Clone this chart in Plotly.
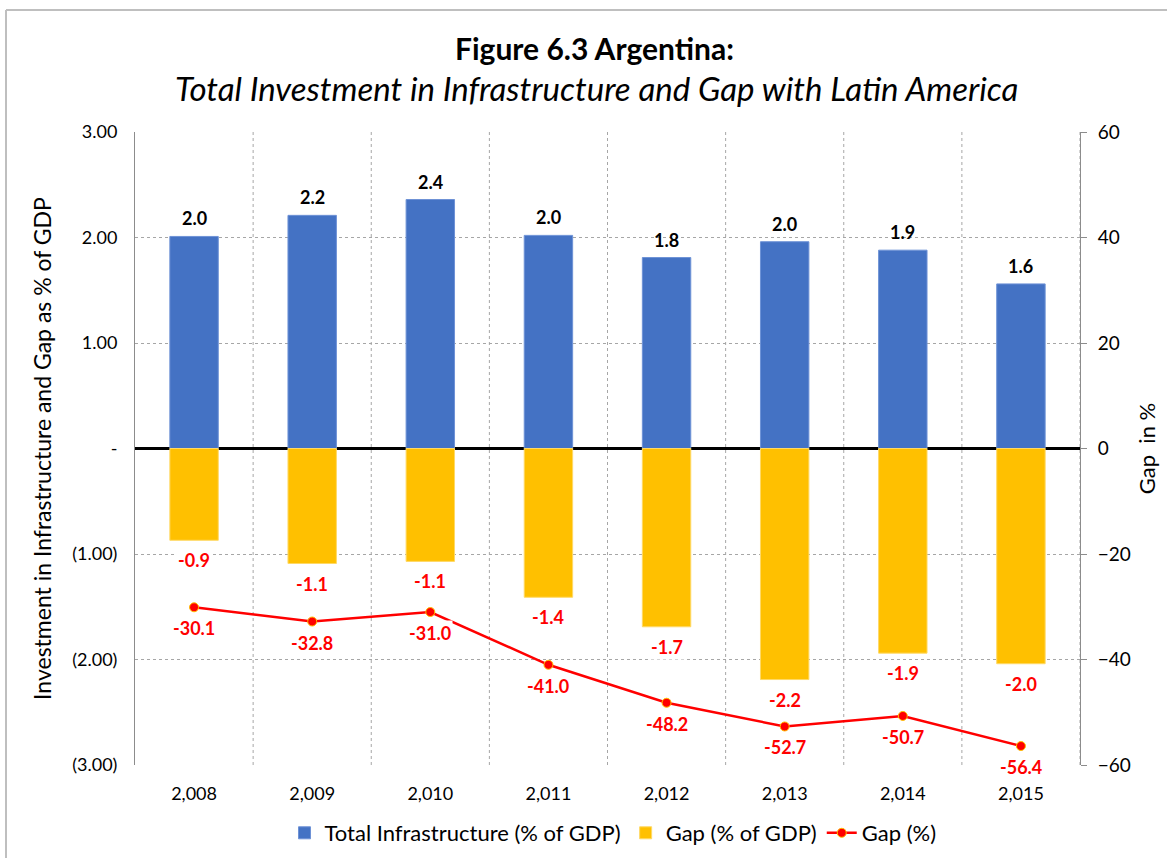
import plotly.graph_objects as go

years = ["2,008", "2,009", "2,010", "2,011", "2,012", "2,013", "2,014", "2,015"]
total_infra = [2.01, 2.21, 2.36, 2.02, 1.81, 1.96, 1.88, 1.56]
gap_gdp = [-0.87, -1.09, -1.07, -1.41, -1.69, -2.19, -1.94, -2.04]
gap_pct = [-30.1, -32.8, -31.0, -41.0, -48.2, -52.7, -50.7, -56.4]

left_ticks = [3, 2, 1, 0, -1, -2, -3]
left_labels = ["3.00", "2.00", "1.00", "-", "(1.00)", "(2.00)", "(3.00)"]
right_ticks = [60, 40, 20, 0, -20, -40, -60]

FONT = "Lato"
BLUE = "#4472C4"
YELLOW = "#FFC000"
RED = "#FF0000"

W, H = 1167, 858
L, R, T, B = 135, 87, 132, 93
pw, ph = W - L - R, H - T - B
def px(xp):
    return (xp - L) / pw
def py(yp):
    return 1 - (yp - T) / ph

fig = go.Figure()
fig.add_trace(go.Bar(x=years, y=total_infra, name="Total Infrastructure (% of GDP)",
                     marker=dict(color=BLUE, line=dict(color="#6E92D6", width=1)), width=0.41))
fig.add_trace(go.Bar(x=years, y=gap_gdp, name="Gap (% of GDP)",
                     marker=dict(color=YELLOW, line=dict(color="#FFD966", width=1)), width=0.41))
fig.add_trace(go.Scatter(x=years, y=gap_pct, name="Gap (%)", yaxis="y2", mode="lines+markers",
                         line=dict(color=RED, width=2.5),
                         marker=dict(color=RED, size=9, line=dict(color="#FFC000", width=1))))

annotations = []
for x, v in zip(years, total_infra):
    annotations.append(dict(x=x, y=v, yref="y", text=f"<b>{v:.1f}</b>", showarrow=False,
                            yanchor="bottom", yshift=5, font=dict(size=18, color="black", family=FONT)))
for x, v in zip(years, gap_gdp):
    annotations.append(dict(x=x, y=v, yref="y", text=f"<b>{v:.1f}</b>", showarrow=False,
                            yanchor="top", yshift=-7, bgcolor="white",
                            font=dict(size=18, color=RED, family=FONT)))
for x, v in zip(years, gap_pct):
    annotations.append(dict(x=x, y=v, yref="y2", text=f"<b>{v:.1f}</b>", showarrow=False,
                            yanchor="top", yshift=-8, bgcolor="white",
                            font=dict(size=18, color=RED, family=FONT)))
# title lines
annotations.append(dict(xref="paper", yref="paper", x=px(594), y=py(48), xanchor="center", yanchor="middle",
                        text="<b>Figure 6.3 Argentina:</b>", showarrow=False,
                        font=dict(size=30, family=FONT, color="black")))
annotations.append(dict(xref="paper", yref="paper", x=px(596), y=py(88), xanchor="center", yanchor="middle",
                        text="<i>Total Investment in Infrastructure and Gap with Latin America</i>", showarrow=False,
                        font=dict(size=33, family=FONT, color="black")))

shapes = []
for i in range(1, len(years) + 1):
    shapes.append(dict(type="line", xref="x", yref="paper", x0=i - 0.5, x1=i - 0.5, y0=0, y1=1,
                       line=dict(color="#A6A6A6", width=1, dash="dot"), layer="below"))
shapes.append(dict(type="line", xref="paper", yref="paper", x0=px(6), x1=px(1167), y0=py(10), y1=py(10),
                   line=dict(color="#BFBFBF", width=2)))
shapes.append(dict(type="line", xref="paper", yref="paper", x0=px(6), x1=px(6), y0=py(10), y1=py(858),
                   line=dict(color="#BFBFBF", width=2)))

fig.update_layout(
    width=W, height=H,
    margin=dict(l=L, r=R, t=T, b=B, autoexpand=False),
    paper_bgcolor="white", plot_bgcolor="white",
    barmode="overlay",
    font=dict(family=FONT, size=18, color="black"),
    xaxis=dict(type="category", showgrid=False, showline=False, ticks="", automargin=False,
               tickfont=dict(size=18), range=[-0.5, 7.5], ticklabelstandoff=16),
    yaxis=dict(range=[-3, 3], tickvals=left_ticks, ticktext=left_labels, automargin=False,
               showgrid=True, gridcolor="#A6A6A6", griddash="dot", gridwidth=1,
               zeroline=True, zerolinecolor="black", zerolinewidth=3,
               showline=True, linecolor="#8C8C8C", linewidth=1, ticks="",
               tickfont=dict(size=18), ticklabelstandoff=13,
               title=dict(text="Investment in Infrastructure and Gap as % of GDP", font=dict(size=23), standoff=14)),
    yaxis2=dict(range=[-60, 60], tickvals=right_ticks, overlaying="y", side="right", automargin=False,
                showgrid=False, zeroline=False, showline=True, linecolor="#8C8C8C", linewidth=1,
                ticks="outside", ticklen=6, tickcolor="#8C8C8C", tickfont=dict(size=19),
                ticklabelstandoff=7,
                title=dict(text="Gap\u00a0 in %", font=dict(size=22), standoff=9)),
    legend=dict(orientation="h", x=px(613), xanchor="center", y=py(833), yanchor="middle",
                font=dict(size=22), traceorder="normal"),
    annotations=annotations,
    shapes=shapes,
)

fig.write_html("out.html", config={"displayModeBar": False},
               post_script="document.body.style.margin='0';")
